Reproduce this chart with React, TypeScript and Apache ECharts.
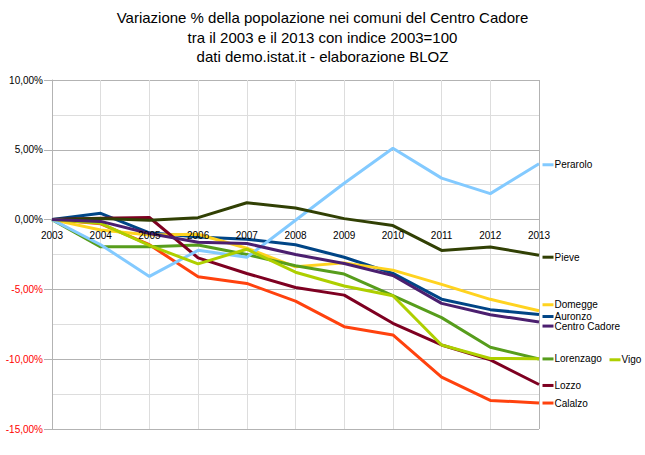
import React, { useEffect, useRef } from "react";
import * as echarts from "echarts";

const categories = ["2003", "2004", "2005", "2006", "2007", "2008", "2009", "2010", "2011", "2012", "2013"];

const auronzo = [0, 0.45, -0.95, -1.25, -1.4, -1.8, -2.7, -3.85, -5.7, -6.45, -6.8];
const calalzo = [0, -0.3, -1.8, -4.1, -4.57, -5.84, -7.67, -8.26, -11.29, -12.95, -13.14];
const domegge = [0, -0.75, -1.1, -1.05, -2.05, -3.38, -3.1, -3.62, -4.64, -5.71, -6.53];
const lorenzago = [0, -1.95, -1.95, -1.82, -2.5, -3.31, -3.9, -5.45, -7.02, -9.14, -9.98];
const lozzo = [0, 0.1, 0.15, -2.74, -3.86, -4.86, -5.41, -7.43, -8.98, -10.05, -11.81];
const perarolo = [0, -1.8, -4.07, -2.2, -2.7, -0.05, 2.6, 5.11, 2.97, 1.86, 4.0];
const pieve = [0, 0.07, -0.05, 0.14, 1.21, 0.83, 0.07, -0.43, -2.21, -1.96, -2.55];
const vigo = [0, -0.27, -1.85, -3.17, -2.12, -3.77, -4.76, -5.45, -8.98, -9.95, -9.97];
const centroCadore = [0, -0.13, -1.0, -1.62, -1.71, -2.5, -3.14, -4.0, -6.0, -6.81, -7.34];

const seriesNames = ["Auronzo", "Calalzo", "Domegge", "Lorenzago", "Lozzo", "Perarolo", "Pieve", "Vigo", "Centro Cadore"];
const seriesValues = [auronzo, calalzo, domegge, lorenzago, lozzo, perarolo, pieve, vigo, centroCadore];
const seriesColors = ["#004586", "#ff420e", "#ffd320", "#579d1c", "#7e0021", "#83caff", "#314004", "#aecf00", "#4b1f6f"];

const yMin = -15;
const yMax = 10;
const yStep = 5;

// label marker nudges [dx, dy] (layout only)
const labelNudge: Record<string, [number, number]> = {
  Auronzo: [9, 2],
  Calalzo: [9, 0],
  Domegge: [9, -6],
  Lorenzago: [9, 0],
  Lozzo: [9, 1],
  Perarolo: [9, 1],
  Pieve: [9, 2],
  Vigo: [76, 1],
  "Centro Cadore": [9, 4],
};

const titleLines = [
  "Variazione % della popolazione nei comuni del Centro Cadore",
  "tra il 2003 e il 2013 con indice 2003=100",
  "dati demo.istat.it - elaborazione BLOZ",
];

const FONT = "'Liberation Sans', Arial, sans-serif";
const W = 645;
const H = 455;
const GRID = { left: 52, right: 106, top: 80, bottom: 26 };

export default function App() {
  const ref = useRef<HTMLDivElement>(null);
  useEffect(() => {
    if (!ref.current) return;
    const chart = echarts.init(ref.current, null, { renderer: "svg" });
    const last = categories.length - 1;
    const xSplitColors = categories.map((_, i) => (i === last ? "#b3b3b3" : "#dddddd"));
    const plotH = H - GRID.top - GRID.bottom;
    // move the category axis up to the zero line of the value scale
    const zeroOffset = -plotH * (0 - yMin) / (yMax - yMin);
    chart.setOption({
      animation: false,
      backgroundColor: "#ffffff",
      title: {
        text: titleLines.join("\n"),
        left: "center",
        top: 3,
        textStyle: {
          fontSize: 15,
          fontWeight: "normal",
          color: "#000000",
          lineHeight: 19.5,
          fontFamily: FONT,
        },
      },
      grid: { ...GRID, containLabel: false },
      xAxis: [
        {
          type: "category",
          data: categories,
          boundaryGap: false,
          position: "bottom",
          axisLine: { show: false, onZero: false },
          axisTick: { show: false },
          axisLabel: { show: false },
          splitLine: { show: true, lineStyle: { color: xSplitColors, width: 1 } },
        },
        {
          type: "category",
          data: categories,
          boundaryGap: false,
          position: "bottom",
          offset: zeroOffset,
          z: 5,
          axisLine: { show: false, onZero: false },
          axisTick: { show: false },
          axisLabel: { interval: 0, color: "#000000", fontSize: 10, fontFamily: FONT, margin: 11 },
          splitLine: { show: false },
        },
      ],
      yAxis: {
        type: "value",
        min: yMin,
        max: yMax,
        interval: yStep,
        axisLine: { show: true, onZero: false, lineStyle: { color: "#b3b3b3", width: 1 } },
        axisTick: { show: true, length: 8, inside: false, lineStyle: { color: "#b3b3b3" } },
        axisLabel: {
          margin: 9,
          fontSize: 10,
          fontFamily: FONT,
          formatter: (v: number) => v.toFixed(2).replace(".", ",") + "%",
          color: (v: any) => (Number(v) < 0 ? "#ff0000" : "#000000"),
        },
        splitLine: { show: true, lineStyle: { color: "#b3b3b3", width: 1 } },
        minorTick: { show: false, splitNumber: 2 },
        minorSplitLine: { show: true, lineStyle: { color: "#dddddd", width: 1 } },
      },
      series: seriesNames.map((name, i) => {
        const vals = seriesValues[i];
        const nudge = labelNudge[name] || [9, 0];
        return {
          name,
          type: "line",
          xAxisIndex: 0,
          data: vals,
          showSymbol: false,
          symbol: "none",
          emphasis: { disabled: true },
          lineStyle: { color: seriesColors[i], width: 3 },
          itemStyle: { color: seriesColors[i] },
          markPoint: {
            silent: true,
            symbol: "rect",
            symbolSize: [11, 3],
            symbolOffset: nudge,
            itemStyle: { color: seriesColors[i] },
            label: {
              show: true,
              position: "right",
              distance: 1,
              formatter: name,
              color: "#000000",
              fontSize: 10,
              fontFamily: FONT,
            },
            data: [{ coord: [categories[last], vals[last]] }],
          },
        };
      }),
    });
    return () => chart.dispose();
  }, []);
  return (
    <div
      ref={ref}
      style={{ position: "fixed", left: 0, top: 0, width: W, height: H, background: "#fff" }}
    />
  );
}
